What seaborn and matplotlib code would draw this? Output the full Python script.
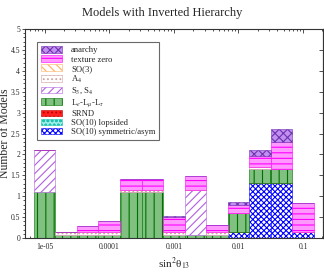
import numpy as np
import seaborn as sns
import matplotlib.pyplot as plt
from matplotlib.ticker import FixedLocator, FixedFormatter, LogLocator, NullFormatter

sns.set_style("ticks")
plt.rcParams['font.family'] = ['Liberation Serif', 'DejaVu Serif']
plt.rcParams['mathtext.fontset'] = 'stix'
plt.rcParams['hatch.linewidth'] = 0.8

# bin centres in log10(sin^2 theta13), one third of a decade apart
bin_centres = [-5.0, -4.667, -4.333, -4.0, -3.667, -3.333, -3.0,
               -2.667, -2.333, -2.0, -1.667, -1.333, -1.0]

# stacked counts, bottom to top
so10_sym   = [0, 0, 0, 0, 0, 0, 0, 0, 0, 0.15, 1.32, 1.32, 0.15]
so10_lop   = [0, 0, 0, 0, 0, 0, 0, 0, 0, 0, 0, 0, 0]
srnd       = [0, 0, 0, 0, 0, 0, 0, 0, 0, 0, 0, 0, 0]
lelmlt     = [1.1, 0.08, 0.08, 0.08, 1.1, 1.1, 0.08, 0.08, 0.08, 0.45, 0.33, 0.33, 0]
s3s4       = [1.0, 0, 0, 0, 0, 0, 0, 1.07, 0, 0, 0, 0, 0]
a4         = [0, 0.07, 0.07, 0.07, 0.05, 0.05, 0.07, 0, 0.07, 0, 0.05, 0, 0]
so3        = [0, 0, 0, 0, 0, 0, 0, 0, 0, 0, 0, 0, 0]
texture    = [0, 0, 0.13, 0.25, 0.25, 0.25, 0.35, 0.33, 0.15, 0.18, 0.25, 0.65, 0.68]
anarchy    = [0, 0, 0, 0, 0, 0, 0.02, 0, 0, 0.08, 0.15, 0.3, 0]

y_ticks = [0, 0.5, 1, 1.5, 2, 2.5, 3, 3.5, 4, 4.5, 5]
y_labels = ["0", "0.5", "1", "1.5", "2", "2.5", "3", "3.5", "4", "4.5", "5"]
x_ticks = [1e-5, 1e-4, 1e-3, 1e-2, 1e-1]
x_labels = ["1e-05", "0.0001", "0.001", "0.01", "0.1"]

layers = [
    ("SO(10) symmetric/asym", so10_sym, "white", "#0000ff", "xxxxxx"),
    ("SO(10) lopsided", so10_lop, "#a0f0e8", "#20c0b0", "oooo"),
    ("SRND", srnd, "#ff2020", "#c00000", "...."),
    (r"L$_e$-L$_\mu$-L$_\tau$", lelmlt, "#80c080", "#007000", "||"),
    (r"S$_3$, S$_4$", s3s4, "white", "#b060e0", "////"),
    (r"A$_4$", a4, "white", "#d0a0a0", "...."),
    ("SO(3)", so3, "white", "#ffb060", "\\\\\\\\"),
    ("texture zero", texture, "#ff99ff", "#ff00ff", "---"),
    ("anarchy", anarchy, "#c090f0", "#7030b0", "xxxx"),
]

fig = plt.figure(figsize=(3.24, 2.77), dpi=100)
ax = fig.add_axes([0.077, 0.141, 0.92, 0.754])

c = np.array(bin_centres)
left = 10 ** (c - 1 / 6)
width = 10 ** (c + 1 / 6) - left
bottom = np.zeros(len(c))
handles = []
for name, vals, fc, ec, hatch in layers:
    vals = np.array(vals, dtype=float)
    bars = ax.bar(left, vals, width=width, bottom=bottom, align="edge",
                  facecolor=fc, edgecolor=ec, hatch=hatch, linewidth=0.4,
                  label=name)
    handles.append(bars)
    bottom += vals

ax.set_xscale("log")
ax.set_xlim(10 ** -5.305, 10 ** -0.69)
ax.set_ylim(0, 5)
ax.xaxis.set_major_locator(FixedLocator(x_ticks))
ax.xaxis.set_major_formatter(FixedFormatter(x_labels))
ax.xaxis.set_minor_locator(LogLocator(base=10, subs=np.arange(2, 10)))
ax.xaxis.set_minor_formatter(NullFormatter())
ax.yaxis.set_major_locator(FixedLocator(y_ticks))
ax.yaxis.set_major_formatter(FixedFormatter(y_labels))
ax.yaxis.set_minor_locator(FixedLocator(np.arange(0, 5.01, 0.1)))
ax.tick_params(which="both", labelsize=5.5, width=0.6, color="#333333")
ax.tick_params(axis="x", which="both", direction="in", top=True, pad=4)
ax.tick_params(axis="y", which="both", direction="out", right=False, pad=1)
ax.tick_params(axis="x", which="major", length=3)
ax.tick_params(axis="y", which="major", length=2.5)
ax.tick_params(which="minor", length=1.6)
# right side carries inward major ticks only
ax_r = ax.secondary_yaxis("right")
ax_r.yaxis.set_major_locator(FixedLocator(y_ticks))
ax_r.tick_params(direction="in", length=3, width=0.6, labelright=False, color="#333333")
for s in ax.spines.values():
    s.set_linewidth(0.8)
    s.set_color("#333333")

fig.suptitle("Models with Inverted Hierarchy", fontsize=9, y=0.975)
fig.text(0.016, 0.518, "Number of Models", rotation=90, fontsize=8.5,
         ha="center", va="center")
ax.set_xlabel(r"sin$^2$θ$_{13}$", fontsize=8, labelpad=3)

leg = ax.legend(handles[::-1], [l[0] for l in layers][::-1], loc="upper left",
                bbox_to_anchor=(0.035, 0.945), fontsize=6.2, frameon=True,
                fancybox=False, handlelength=2.4, handleheight=0.8,
                labelspacing=0.1, handletextpad=1.1, borderpad=0.45,
                borderaxespad=0.2)
leg.get_frame().set_edgecolor("#444444")
leg.get_frame().set_linewidth(0.8)

fig.savefig("out.png", dpi=100)
